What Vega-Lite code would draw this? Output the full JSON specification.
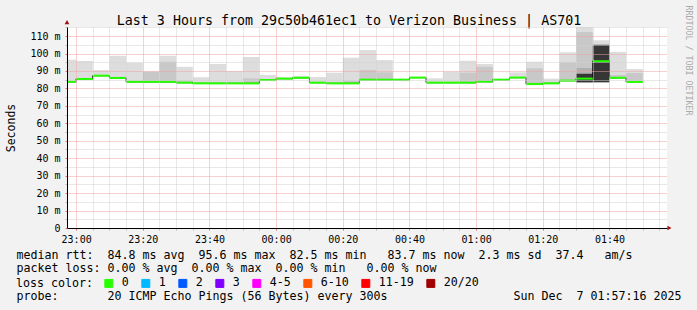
{
  "$schema": "https://vega.github.io/schema/vega-lite/v6.json",
  "width": 600,
  "height": 201,
  "autosize": {"type": "none"},
  "padding": {"left": 67, "top": 27, "right": 30, "bottom": 82},
  "background": "#f2f2f2",
  "view": {"fill": "white", "stroke": null},
  "datasets": {
    "bins": [
      {"s": "2025-12-06T22:55:00Z", "e": "2025-12-06T23:00:00Z", "med": 83.8, "loss": "0"},
      {"s": "2025-12-06T23:00:00Z", "e": "2025-12-06T23:05:00Z", "med": 85.4, "loss": "0"},
      {"s": "2025-12-06T23:05:00Z", "e": "2025-12-06T23:10:00Z", "med": 87.3, "loss": "0"},
      {"s": "2025-12-06T23:10:00Z", "e": "2025-12-06T23:15:00Z", "med": 86.0, "loss": "0"},
      {"s": "2025-12-06T23:15:00Z", "e": "2025-12-06T23:20:00Z", "med": 83.8, "loss": "0"},
      {"s": "2025-12-06T23:20:00Z", "e": "2025-12-06T23:25:00Z", "med": 83.8, "loss": "0"},
      {"s": "2025-12-06T23:25:00Z", "e": "2025-12-06T23:30:00Z", "med": 83.8, "loss": "0"},
      {"s": "2025-12-06T23:30:00Z", "e": "2025-12-06T23:35:00Z", "med": 83.3, "loss": "0"},
      {"s": "2025-12-06T23:35:00Z", "e": "2025-12-06T23:40:00Z", "med": 82.9, "loss": "0"},
      {"s": "2025-12-06T23:40:00Z", "e": "2025-12-06T23:45:00Z", "med": 82.9, "loss": "0"},
      {"s": "2025-12-06T23:45:00Z", "e": "2025-12-06T23:50:00Z", "med": 82.9, "loss": "0"},
      {"s": "2025-12-06T23:50:00Z", "e": "2025-12-06T23:55:00Z", "med": 82.9, "loss": "0"},
      {"s": "2025-12-06T23:55:00Z", "e": "2025-12-07T00:00:00Z", "med": 84.8, "loss": "0"},
      {"s": "2025-12-07T00:00:00Z", "e": "2025-12-07T00:05:00Z", "med": 85.6, "loss": "0"},
      {"s": "2025-12-07T00:05:00Z", "e": "2025-12-07T00:10:00Z", "med": 86.1, "loss": "0"},
      {"s": "2025-12-07T00:10:00Z", "e": "2025-12-07T00:15:00Z", "med": 83.3, "loss": "0"},
      {"s": "2025-12-07T00:15:00Z", "e": "2025-12-07T00:20:00Z", "med": 82.9, "loss": "0"},
      {"s": "2025-12-07T00:20:00Z", "e": "2025-12-07T00:25:00Z", "med": 82.9, "loss": "0"},
      {"s": "2025-12-07T00:25:00Z", "e": "2025-12-07T00:30:00Z", "med": 85.0, "loss": "0"},
      {"s": "2025-12-07T00:30:00Z", "e": "2025-12-07T00:35:00Z", "med": 85.0, "loss": "0"},
      {"s": "2025-12-07T00:35:00Z", "e": "2025-12-07T00:40:00Z", "med": 85.0, "loss": "0"},
      {"s": "2025-12-07T00:40:00Z", "e": "2025-12-07T00:45:00Z", "med": 86.2, "loss": "0"},
      {"s": "2025-12-07T00:45:00Z", "e": "2025-12-07T00:50:00Z", "med": 83.3, "loss": "0"},
      {"s": "2025-12-07T00:50:00Z", "e": "2025-12-07T00:55:00Z", "med": 83.3, "loss": "0"},
      {"s": "2025-12-07T00:55:00Z", "e": "2025-12-07T01:00:00Z", "med": 83.3, "loss": "0"},
      {"s": "2025-12-07T01:00:00Z", "e": "2025-12-07T01:05:00Z", "med": 83.9, "loss": "0"},
      {"s": "2025-12-07T01:05:00Z", "e": "2025-12-07T01:10:00Z", "med": 85.0, "loss": "0"},
      {"s": "2025-12-07T01:10:00Z", "e": "2025-12-07T01:15:00Z", "med": 86.2, "loss": "0"},
      {"s": "2025-12-07T01:15:00Z", "e": "2025-12-07T01:20:00Z", "med": 82.5, "loss": "0"},
      {"s": "2025-12-07T01:20:00Z", "e": "2025-12-07T01:25:00Z", "med": 82.9, "loss": "0"},
      {"s": "2025-12-07T01:25:00Z", "e": "2025-12-07T01:30:00Z", "med": 84.5, "loss": "0"},
      {"s": "2025-12-07T01:30:00Z", "e": "2025-12-07T01:35:00Z", "med": 85.6, "loss": "0"},
      {"s": "2025-12-07T01:35:00Z", "e": "2025-12-07T01:40:00Z", "med": 95.6, "loss": "0"},
      {"s": "2025-12-07T01:40:00Z", "e": "2025-12-07T01:45:00Z", "med": 86.1, "loss": "0"},
      {"s": "2025-12-07T01:45:00Z", "e": "2025-12-07T01:50:00Z", "med": 83.7, "loss": "0"}
    ],
    "smoke": [
      {"s": "2025-12-06T22:55:00Z", "e": "2025-12-06T23:00:00Z", "lo": 83.3, "hi": 96.5, "g": "a"},
      {"s": "2025-12-06T23:00:00Z", "e": "2025-12-06T23:05:00Z", "lo": 85.0, "hi": 95.7, "g": "a"},
      {"s": "2025-12-06T23:05:00Z", "e": "2025-12-06T23:10:00Z", "lo": 87.0, "hi": 90.5, "g": "a"},
      {"s": "2025-12-06T23:10:00Z", "e": "2025-12-06T23:15:00Z", "lo": 85.6, "hi": 98.7, "g": "a"},
      {"s": "2025-12-06T23:15:00Z", "e": "2025-12-06T23:20:00Z", "lo": 83.4, "hi": 94.7, "g": "a"},
      {"s": "2025-12-06T23:20:00Z", "e": "2025-12-06T23:25:00Z", "lo": 83.4, "hi": 89.6, "g": "a"},
      {"s": "2025-12-06T23:25:00Z", "e": "2025-12-06T23:30:00Z", "lo": 83.4, "hi": 98.7, "g": "a"},
      {"s": "2025-12-06T23:30:00Z", "e": "2025-12-06T23:35:00Z", "lo": 83.0, "hi": 92.4, "g": "a"},
      {"s": "2025-12-06T23:35:00Z", "e": "2025-12-06T23:40:00Z", "lo": 82.5, "hi": 86.4, "g": "a"},
      {"s": "2025-12-06T23:40:00Z", "e": "2025-12-06T23:45:00Z", "lo": 82.5, "hi": 94.0, "g": "a"},
      {"s": "2025-12-06T23:45:00Z", "e": "2025-12-06T23:50:00Z", "lo": 82.5, "hi": 90.0, "g": "a"},
      {"s": "2025-12-06T23:50:00Z", "e": "2025-12-06T23:55:00Z", "lo": 82.5, "hi": 98.0, "g": "a"},
      {"s": "2025-12-06T23:55:00Z", "e": "2025-12-07T00:00:00Z", "lo": 84.5, "hi": 87.7, "g": "a"},
      {"s": "2025-12-07T00:00:00Z", "e": "2025-12-07T00:05:00Z", "lo": 85.3, "hi": 86.5, "g": "a"},
      {"s": "2025-12-07T00:05:00Z", "e": "2025-12-07T00:10:00Z", "lo": 85.8, "hi": 87.1, "g": "a"},
      {"s": "2025-12-07T00:10:00Z", "e": "2025-12-07T00:15:00Z", "lo": 83.0, "hi": 86.5, "g": "a"},
      {"s": "2025-12-07T00:15:00Z", "e": "2025-12-07T00:20:00Z", "lo": 82.5, "hi": 89.0, "g": "a"},
      {"s": "2025-12-07T00:20:00Z", "e": "2025-12-07T00:25:00Z", "lo": 82.5, "hi": 97.6, "g": "a"},
      {"s": "2025-12-07T00:25:00Z", "e": "2025-12-07T00:30:00Z", "lo": 84.7, "hi": 102.0, "g": "a"},
      {"s": "2025-12-07T00:30:00Z", "e": "2025-12-07T00:35:00Z", "lo": 84.7, "hi": 96.3, "g": "a"},
      {"s": "2025-12-07T00:35:00Z", "e": "2025-12-07T00:40:00Z", "lo": 84.7, "hi": 85.5, "g": "a"},
      {"s": "2025-12-07T00:40:00Z", "e": "2025-12-07T00:45:00Z", "lo": 85.8, "hi": 86.6, "g": "a"},
      {"s": "2025-12-07T00:45:00Z", "e": "2025-12-07T00:50:00Z", "lo": 83.0, "hi": 85.8, "g": "a"},
      {"s": "2025-12-07T00:50:00Z", "e": "2025-12-07T00:55:00Z", "lo": 83.0, "hi": 89.6, "g": "a"},
      {"s": "2025-12-07T00:55:00Z", "e": "2025-12-07T01:00:00Z", "lo": 83.0, "hi": 95.9, "g": "a"},
      {"s": "2025-12-07T01:00:00Z", "e": "2025-12-07T01:05:00Z", "lo": 83.5, "hi": 94.0, "g": "a"},
      {"s": "2025-12-07T01:05:00Z", "e": "2025-12-07T01:10:00Z", "lo": 84.7, "hi": 85.5, "g": "a"},
      {"s": "2025-12-07T01:10:00Z", "e": "2025-12-07T01:15:00Z", "lo": 85.8, "hi": 89.2, "g": "a"},
      {"s": "2025-12-07T01:15:00Z", "e": "2025-12-07T01:20:00Z", "lo": 82.0, "hi": 95.3, "g": "a"},
      {"s": "2025-12-07T01:20:00Z", "e": "2025-12-07T01:25:00Z", "lo": 82.5, "hi": 85.6, "g": "a"},
      {"s": "2025-12-07T01:25:00Z", "e": "2025-12-07T01:30:00Z", "lo": 84.0, "hi": 100.7, "g": "a"},
      {"s": "2025-12-07T01:30:00Z", "e": "2025-12-07T01:35:00Z", "lo": 83.5, "hi": 118.0, "g": "a"},
      {"s": "2025-12-07T01:35:00Z", "e": "2025-12-07T01:40:00Z", "lo": 83.5, "hi": 107.6, "g": "a"},
      {"s": "2025-12-07T01:40:00Z", "e": "2025-12-07T01:45:00Z", "lo": 85.8, "hi": 100.9, "g": "a"},
      {"s": "2025-12-07T01:45:00Z", "e": "2025-12-07T01:50:00Z", "lo": 83.5, "hi": 91.1, "g": "a"},
      {"s": "2025-12-06T23:20:00Z", "e": "2025-12-06T23:25:00Z", "lo": 83.4, "hi": 89.6, "g": "b"},
      {"s": "2025-12-06T23:25:00Z", "e": "2025-12-06T23:30:00Z", "lo": 83.4, "hi": 95.3, "g": "b"},
      {"s": "2025-12-06T23:30:00Z", "e": "2025-12-06T23:35:00Z", "lo": 83.0, "hi": 84.5, "g": "b"},
      {"s": "2025-12-06T23:50:00Z", "e": "2025-12-06T23:55:00Z", "lo": 82.5, "hi": 85.8, "g": "b"},
      {"s": "2025-12-07T00:20:00Z", "e": "2025-12-07T00:25:00Z", "lo": 82.5, "hi": 84.5, "g": "b"},
      {"s": "2025-12-07T00:25:00Z", "e": "2025-12-07T00:30:00Z", "lo": 84.7, "hi": 90.5, "g": "b"},
      {"s": "2025-12-07T00:30:00Z", "e": "2025-12-07T00:35:00Z", "lo": 84.7, "hi": 89.2, "g": "b"},
      {"s": "2025-12-07T00:55:00Z", "e": "2025-12-07T01:00:00Z", "lo": 83.0, "hi": 89.0, "g": "b"},
      {"s": "2025-12-07T01:00:00Z", "e": "2025-12-07T01:05:00Z", "lo": 83.5, "hi": 92.4, "g": "b"},
      {"s": "2025-12-07T01:15:00Z", "e": "2025-12-07T01:20:00Z", "lo": 82.0, "hi": 91.5, "g": "b"},
      {"s": "2025-12-07T01:25:00Z", "e": "2025-12-07T01:30:00Z", "lo": 84.0, "hi": 95.0, "g": "b"},
      {"s": "2025-12-07T01:30:00Z", "e": "2025-12-07T01:35:00Z", "lo": 83.5, "hi": 112.3, "g": "b"},
      {"s": "2025-12-07T01:40:00Z", "e": "2025-12-07T01:45:00Z", "lo": 85.8, "hi": 87.7, "g": "b"},
      {"s": "2025-12-07T01:45:00Z", "e": "2025-12-07T01:50:00Z", "lo": 83.5, "hi": 88.8, "g": "b"},
      {"s": "2025-12-07T01:30:00Z", "e": "2025-12-07T01:35:00Z", "lo": 83.5, "hi": 91.7, "g": "c"},
      {"s": "2025-12-07T01:30:00Z", "e": "2025-12-07T01:35:00Z", "lo": 83.5, "hi": 88.4, "g": "d"},
      {"s": "2025-12-07T01:35:00Z", "e": "2025-12-07T01:40:00Z", "lo": 83.5, "hi": 105.0, "g": "d"}
    ],
    "arrows": [
      {"s": "2025-12-07T01:58:00Z", "v": 0, "k": "x"},
      {"s": "2025-12-06T22:57:16Z", "v": 118, "k": "y"}
    ]
  },
  "layer": [
    {
      "data": {"name": "smoke"},
      "mark": {"type": "rect", "clip": true},
      "encoding": {
        "x": {
          "field": "s", "type": "temporal",
          "scale": {"type": "utc", "domain": [
            {"year": 2025, "month": 12, "date": 6, "hours": 22, "minutes": 57, "seconds": 16, "utc": true},
            {"year": 2025, "month": 12, "date": 7, "hours": 1, "minutes": 57, "seconds": 16, "utc": true}
          ]},
          "axis": {
            "orient": "bottom",
            "title": "median rtt:\u00a0\u00a084.8 ms avg\u00a0\u00a095.6 ms max\u00a0\u00a082.5 ms min\u00a0\u00a0\u00a083.7 ms now\u00a0\u00a02.3 ms sd\u00a0\u00a037.4\u00a0\u00a0\u00a0am/s",
            "titleFont": "DejaVu Sans Mono", "titleFontSize": 11.63, "titleFontWeight": "normal", "titleColor": "black",
            "titleAlign": "left", "titleBaseline": "alphabetic", "titleX": -51, "titleY": 30,
            "tickCount": 36,
            "labelExpr": "utcminutes(datum.value) % 20 == 0 ? utcFormat(datum.value, '%H:%M') : ''",
            "labelFont": "DejaVu Sans Mono", "labelFontSize": 10, "labelColor": "black", "labelPadding": 4,
            "labelOverlap": false,
            "tickSize": 2,
            "tickColor": {"condition": {"test": "utcminutes(datum.value) % 20 == 0", "value": "#e07070"}, "value": "#bbbbbb"},
            "domainColor": "black",
            "grid": true,
            "gridColor": {"condition": {"test": "utcminutes(datum.value) % 20 == 0", "value": "#f2a0a0"}, "value": "#d0d0d0"},
            "gridDash": [1, 1],
            "zindex": 1
          }
        },
        "x2": {"field": "e"},
        "y": {
          "field": "lo", "type": "quantitative",
          "scale": {"domain": [0, 115.2], "nice": false, "zero": false},
          "axis": {
            "orient": "left",
            "title": "Seconds",
            "titleFont": "DejaVu Sans Mono", "titleFontSize": 11.5, "titleFontWeight": "normal", "titleColor": "black",
            "titleX": -56, "titleY": 100.5, "titleAngle": -90, "titleAlign": "center", "titleBaseline": "middle",
            "values": [0, 5, 10, 15, 20, 25, 30, 35, 40, 45, 50, 55, 60, 65, 70, 75, 80, 85, 90, 95, 100, 105, 110, 115],
            "labelExpr": "datum.value % 10 == 0 ? (datum.value == 0 ? '0\u00a0\u00a0' : datum.value + ' m') : ''",
            "labelFont": "DejaVu Sans Mono", "labelFontSize": 10, "labelColor": "black", "labelPadding": 5,
            "labelOverlap": false,
            "tickSize": 2,
            "tickColor": {"condition": {"test": "datum.value % 10 == 0", "value": "#e07070"}, "value": "#bbbbbb"},
            "domainColor": "black",
            "grid": true,
            "gridColor": {"condition": {"test": "datum.value % 10 == 0", "value": "#f2a0a0"}, "value": "#d0d0d0"},
            "gridDash": [1, 1],
            "zindex": 1
          }
        },
        "y2": {"field": "hi"},
        "fill": {
          "field": "g", "type": "nominal",
          "scale": {"domain": ["a", "b", "c", "d"], "range": ["#dddddd", "#c8c8c8", "#b0b0b0", "#363636"]},
          "legend": null
        }
      }
    },
    {
      "data": {"name": "bins"},
      "mark": {"type": "line", "interpolate": "step-after", "color": "black", "strokeWidth": 1, "clip": true},
      "encoding": {
        "x": {
          "field": "s", "type": "temporal",
          "axis": {
            "orient": "bottom",
            "title": "packet loss: 0.00 % avg\u00a0\u00a00.00 % max\u00a0\u00a00.00 % min\u00a0\u00a0\u00a00.00 % now",
            "labels": false, "ticks": false, "domain": false, "grid": false,
            "titleFont": "DejaVu Sans Mono", "titleFontSize": 11.63, "titleFontWeight": "normal", "titleColor": "black",
            "titleAlign": "left", "titleBaseline": "alphabetic", "titleX": -51, "titleY": 43.7
          }
        },
        "y": {
          "field": "med", "type": "quantitative",
          "axis": {
            "orient": "right",
            "title": "RRDTOOL / TOBI OETIKER",
            "labels": false, "ticks": false, "domain": false, "grid": false,
            "titleFont": "DejaVu Sans Mono", "titleFontSize": 8.3, "titleFontWeight": "normal", "titleColor": "#aaaaaa",
            "titleAngle": 90, "titleX": 20, "titleY": 33, "titleAlign": "center", "titleBaseline": "middle"
          }
        }
      }
    },
    {
      "data": {"name": "bins"},
      "mark": {"type": "rule", "strokeWidth": 2, "clip": true},
      "encoding": {
        "x": {
          "field": "s", "type": "temporal",
          "axis": {
            "orient": "bottom",
            "title": "probe:\u00a0\u00a0\u00a0\u00a0\u00a0\u00a0\u00a020 ICMP Echo Pings (56 Bytes) every 300s\u00a0\u00a0\u00a0\u00a0\u00a0\u00a0\u00a0\u00a0\u00a0\u00a0\u00a0\u00a0\u00a0\u00a0\u00a0\u00a0\u00a0\u00a0Sun Dec\u00a0\u00a07 01:57:16 2025",
            "labels": false, "ticks": false, "domain": false, "grid": false,
            "titleFont": "DejaVu Sans Mono", "titleFontSize": 11.63, "titleFontWeight": "normal", "titleColor": "black",
            "titleAlign": "left", "titleBaseline": "alphabetic", "titleX": -51, "titleY": 71.1
          }
        },
        "x2": {"field": "e"},
        "y": {"field": "med", "type": "quantitative", "axis": null},
        "color": {
          "field": "loss", "type": "nominal",
          "scale": {
            "domain": ["0", "1", "2", "3", "4-5", "6-10", "11-19", "20/20"],
            "range": ["#26ff00", "#00b8ff", "#0059ff", "#7e00ff", "#ff00ff", "#ff5500", "#ff0000", "#a10000"]
          },
          "legend": {
            "orient": "none", "legendX": -51, "legendY": 250.5, "direction": "horizontal",
            "title": "loss color:", "titleOrient": "left",
            "titleFont": "DejaVu Sans Mono", "titleFontSize": 11.63, "titleFontWeight": "normal", "titleColor": "black",
            "titlePadding": 10,
            "labelFont": "DejaVu Sans Mono", "labelFontSize": 11.63, "labelColor": "black", "labelOffset": 7,
            "columnPadding": 10, "padding": 0,
            "symbolType": "square", "symbolSize": 64, "symbolStrokeColor": "black", "symbolStrokeWidth": 1,
            "encode": {"symbols": {"update": {"fill": {"scale": "color", "field": "value"}, "stroke": {"value": "black"}, "strokeWidth": {"value": 1}, "opacity": {"value": 1}}}}
          }
        }
      }
    },
    {
      "data": {"name": "arrows"},
      "mark": {"type": "point", "filled": true, "size": 22, "color": "#a01010", "opacity": 1},
      "encoding": {
        "x": {
          "field": "s", "type": "temporal",
          "axis": {
            "orient": "top",
            "title": "Last 3 Hours from 29c50b461ec1 to Verizon Business | AS701",
            "labels": false, "ticks": false, "domain": false, "grid": false,
            "titleFont": "DejaVu Sans Mono", "titleFontSize": 13.3, "titleFontWeight": "normal", "titleColor": "black",
            "titleAlign": "center", "titleBaseline": "alphabetic", "titleX": 281.5, "titleY": -3
          }
        },
        "y": {"field": "v", "type": "quantitative", "axis": null},
        "shape": {"field": "k", "type": "nominal", "scale": {"domain": ["x", "y"], "range": ["triangle-right", "triangle-up"]}, "legend": null}
      }
    }
  ],
  "resolve": {"axis": {"x": "independent", "y": "independent"}}
}
